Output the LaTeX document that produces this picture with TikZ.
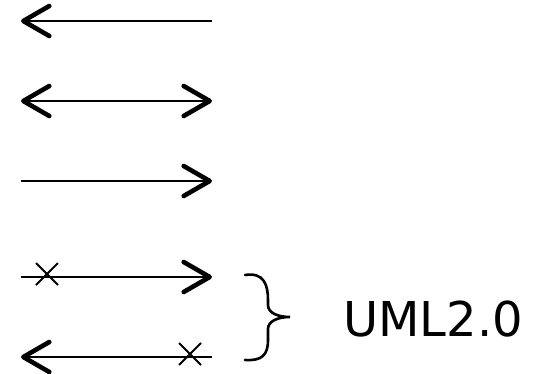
\documentclass[tikz,border=0pt]{standalone}
\usepackage{fontspec}
\setmainfont{DejaVu Sans}
\usetikzlibrary{arrows.meta}
\begin{document}
\begin{tikzpicture}[x=1pt,y=-1pt,
  barb/.tip={Straight Barb[length=26pt,width=30pt,line width=4.6pt,round]},
  conn/.style={line width=2.6pt,-barb},
  dconn/.style={line width=2.6pt,barb-barb},
  xmark/.style={line width=1.8pt},
  bracepath/.style={line width=2.6pt,line cap=round}]
\useasboundingbox (0,0) rectangle (543,374);
% endpoints
\coordinate (a1r) at (212,21);  \coordinate (a1l) at (21,21);
\coordinate (a2r) at (212,101); \coordinate (a2l) at (21,101);
\coordinate (a3r) at (212,181); \coordinate (a3l) at (21,181);
\coordinate (a4r) at (212,277); \coordinate (a4l) at (21,277);
\coordinate (a5r) at (212,357); \coordinate (a5l) at (21,357);
\draw[conn] (a1r) -- (a1l);
\draw[dconn] (a2l) -- (a2r);
\draw[conn] (a3l) -- (a3r);
\draw[conn] (a4l) -- (a4r);
\draw[conn] (a5r) -- (a5l);
% crosses
\coordinate (c1) at (47,274);
\coordinate (c2) at (190,354);
\draw[xmark] ([shift={(-11,-11)}]c1) -- ([shift={(11,11)}]c1);
\draw[xmark] ([shift={(-11,11)}]c1) -- ([shift={(11,-11)}]c1);
\draw[xmark] ([shift={(-11,-11)}]c2) -- ([shift={(11,11)}]c2);
\draw[xmark] ([shift={(-11,11)}]c2) -- ([shift={(11,-11)}]c2);
% brace
\draw[bracepath] (245,275) .. controls (264,272) and (268,285) .. (268,300) -- (268,305)
  .. controls (268,313) and (278,317) .. (290,317)
  .. controls (278,317) and (268,321) .. (268,329) -- (268,340)
  .. controls (268,355) and (262,361) .. (245,360);
\node[anchor=west,inner sep=0pt,font=\fontsize{48}{52}\selectfont] (uml) at (343,319) {UML2.0};
\end{tikzpicture}
\end{document}
